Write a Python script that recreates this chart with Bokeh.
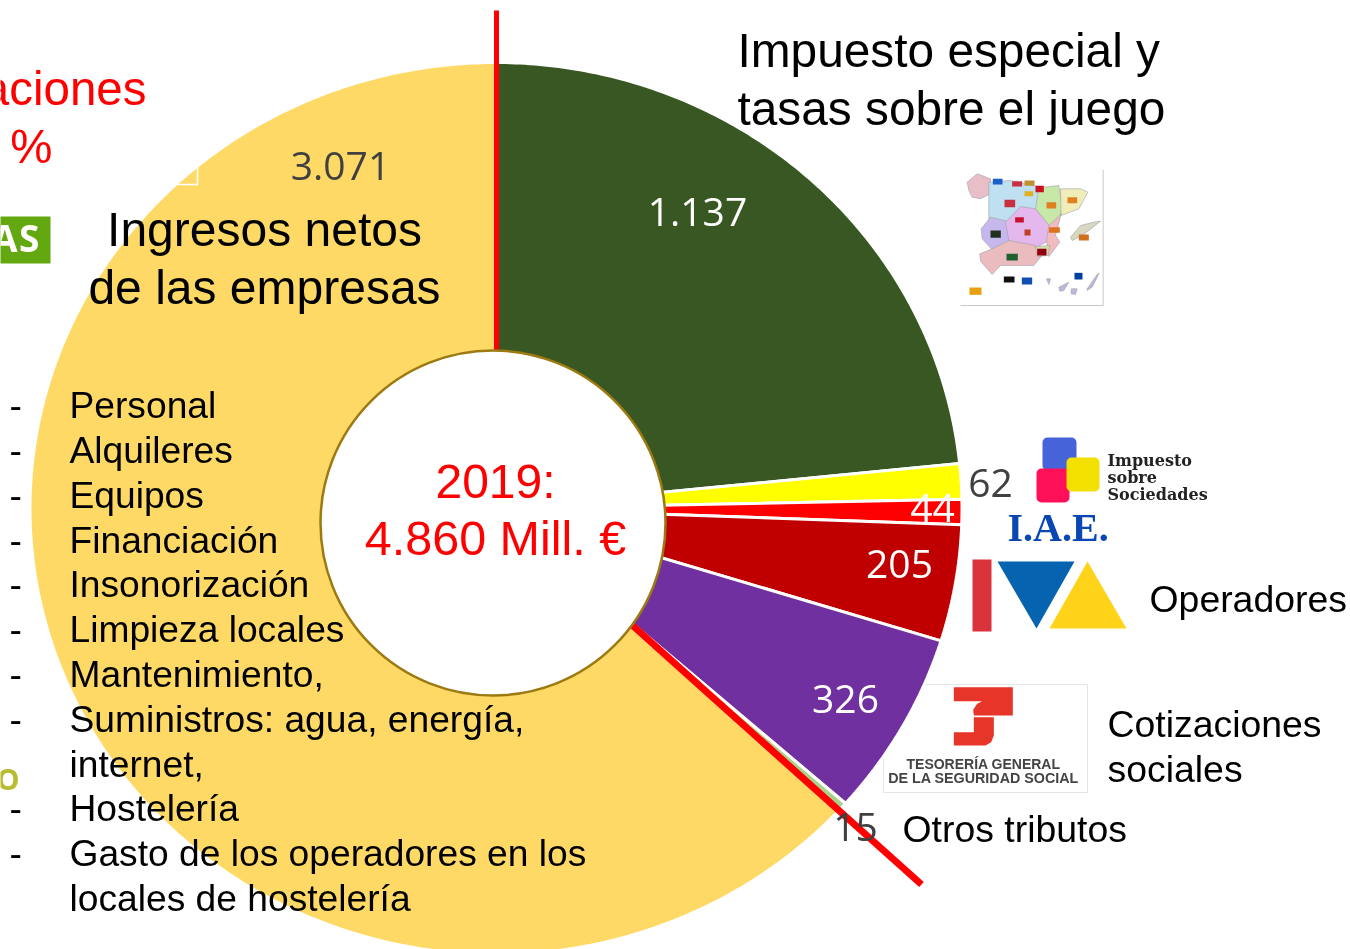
import numpy as np
from bokeh.plotting import figure, ColumnDataSource
from bokeh.models import Range1d
from bokeh.core.properties import value
from bokeh.embed import file_html
from bokeh.resources import INLINE

W, H = 1350, 949

# ---- data
slice_names = ["Impuesto especial y tasas", "Impuesto sobre Sociedades", "I.A.E.", "IVA",
               "Cotizaciones sociales", "Otros tributos", "Ingresos netos de las empresas"]
slice_values = [1137, 62, 44, 205, 326, 15, 3071]
slice_colors = ["#385723", "#FFFF00", "#FF0000", "#C00000", "#7030A0", "#A9D18E", "#FFD966"]
value_labels = ["1.137", "62", "44", "205", "326", "15", "3.071"]
total_label = ["2019:", "4.860 Mill. €"]
expense_items = ["Personal", "Alquileres", "Equipos", "Financiación", "Insonorización",
                 "Limpieza locales", "Mantenimiento,", "Suministros: agua, energía,", "internet,",
                 "Hostelería", "Gasto de los operadores en los", "locales de hostelería"]
expense_dash = [True, True, True, True, True, True, True, True, False, True, True, False]

p = figure(width=W, height=H, x_range=Range1d(0, W), y_range=Range1d(H, 0),
           output_backend="svg", toolbar_location=None, min_border=0,
           outline_line_color=None, background_fill_color="white", border_fill_color="white")
p.axis.visible = False
p.grid.visible = False
p.styles = {"position": "fixed", "left": "0px", "top": "0px"}

# logo frame lies under the pie
p.quad(left=[883], right=[1087], top=[684], bottom=[792], fill_color="white", line_color="#E4E4E4", line_width=1)

# ---- pie (stretched horizontally, as in the reference)
cx, cy, rx, ry = 495.5, 508.0, 466.0, 446.0
total = sum(slice_values)
xs, ys = [], []
acc = 0
for v in slice_values:
    a0, a1 = acc / total * 2 * np.pi, (acc + v) / total * 2 * np.pi
    th = np.linspace(a0, a1, max(3, int(v / 8)))
    xs.append([cx] + list(cx + rx * np.sin(th)))
    ys.append([cy] + list(cy - ry * np.cos(th)))
    acc += v
p.patches(xs, ys, fill_color=slice_colors, line_color="white", line_width=3)

FONT = value("Liberation Sans")
def T(x, y, s, size, color="black", align="left", font=FONT, style="normal"):
    # y is the wanted baseline; Bokeh's svg text sits about 0.36 em lower
    p.text([x], [y - 0.36 * size], text=[s], text_font=font, text_font_size=f"{size}px", text_color=color,
           text_align=align, text_baseline="alphabetic", text_font_style=style)

# small white frame remnant on the gold slice
p.line([175, 197, 197], [184, 184, 165], line_color="white", line_width=1.5)

# ---- red dividers and the hole
p.line([496, 496], [10, 352], line_color="#FF0000", line_width=5)
p.line([632, 921], [625, 884], line_color="#FF0000", line_width=7)
p.ellipse([492.5], [522.5], width=345, height=345, fill_color="white",
          line_color="#9C7A12", line_width=2.5)

# ---- map of Spain (small picture) : zoomed-crop coordinates
def mx(v): return [940 + a / 3 for a in v]
def my(v): return [150 + a / 3 for a in v]
regions = [
    ("#E8BFC8", [80, 110, 150, 150, 120, 95, 85], [95, 70, 85, 130, 145, 140, 120]),
    ("#BFE0F0", [145, 210, 300, 295, 280, 195, 145], [95, 90, 110, 175, 195, 215, 210]),
    ("#C8E8A8", [295, 355, 365, 350, 325, 285], [112, 105, 170, 230, 225, 175]),
    ("#F0EDB8", [360, 420, 442, 415, 362], [115, 115, 125, 175, 195]),
    ("#C6B8EC", [122, 150, 200, 208, 190, 155, 125], [235, 200, 212, 270, 292, 298, 265]),
    ("#E4B8EC", [195, 240, 285, 330, 322, 285, 205], [215, 168, 175, 230, 272, 292, 270]),
    ("#F0BCC0", [325, 362, 345, 358, 325, 318], [225, 190, 255, 275, 318, 270]),
    ("#EABCC0", [118, 155, 205, 285, 302, 280, 180, 155, 120], [310, 295, 270, 285, 318, 345, 345, 372, 332]),
    ("#D8DCA8", [285, 328, 322, 290], [288, 285, 315, 318]),
    ("#D8D8C0", [390, 420, 460, 480, 445, 425, 395], [260, 225, 215, 212, 240, 255, 270]),
    ("#BDB8DC", [440, 470, 476, 455, 440], [415, 372, 368, 410, 420]),
    ("#BDB8DC", [355, 385, 370, 358], [410, 395, 420, 422]),
    ("#BDB8DC", [318, 330, 325], [385, 385, 402]),
    ("#BDB8DC", [392, 410, 405, 392], [415, 415, 432, 430]),
]
for c, a, b in regions:
    p.patch(mx(a), my(b), fill_color=c, line_color="#A0A0A8", line_width=0.6)
flags = [("#1A5FC8", 157, 85, 186, 102), ("#C83040", 215, 92, 245, 108), ("#C09030", 252, 90, 282, 106),
         ("#C81020", 285, 106, 310, 125), ("#E0B020", 252, 122, 278, 137), ("#C83040", 192, 148, 224, 170),
         ("#E08020", 318, 155, 347, 174), ("#E08020", 381, 140, 410, 158), ("#C81030", 224, 200, 250, 216),
         ("#203020", 150, 240, 181, 262), ("#C04020", 252, 237, 270, 255), ("#E07020", 325, 230, 358, 247),
         ("#D07020", 415, 252, 445, 270), ("#206030", 198, 310, 232, 330), ("#900010", 290, 295, 318, 315),
         ("#101010", 190, 378, 222, 396), ("#1050B0", 244, 381, 275, 402), ("#0040A0", 402, 367, 426, 387),
         ("#E8A010", 87, 411, 123, 433)]
for c, l, t, r, b in flags:
    p.quad(left=[940 + l / 3], right=[940 + r / 3], top=[150 + t / 3], bottom=[150 + b / 3],
           fill_color=c, line_color=None)
p.line(mx([60, 488, 488]), my([465, 465, 58]), line_color="#C8C8C8", line_width=1)

# ---- logo: Impuesto sobre Sociedades
for c, l, t, r, b in [("#4763D9", 1042, 437, 1076, 470), ("#FF1058", 1036, 468, 1069, 502),
                      ("#F2E000", 1066, 457, 1099, 491)]:
    p.quad(left=[l], right=[r], top=[t], bottom=[b], fill_color=c, line_color=None, border_radius=5)
SERIF = value("DejaVu Serif")
for i, s in enumerate(["Impuesto", "sobre", "Sociedades"]):
    T(1107, 466 + i * 16.7, s, 16, "#222222", font=SERIF, style="bold")

# ---- logo: I.A.E.
T(1007, 541, "I.A.E.", 40, "#0A47B5", font=value("Liberation Serif"), style="bold")

# ---- logo: IVA
p.quad(left=[972], right=[991], top=[559], bottom=[631], fill_color="#D9333B", line_color=None)
p.patch([997, 1074, 1036], [561, 561, 628], fill_color="#0563AF", line_color=None)
p.patch([1087, 1126, 1049], [561, 628, 628], fill_color="#FFD31A", line_color=None)

# ---- logo: Tesorería
def zx(v): return [780 + a / 3 for a in v]
def zy(v): return [670 + a / 3 for a in v]
p.patch(zx([520, 697, 697, 580, 578, 590, 605, 520]), zy([50, 50, 135, 135, 118, 100, 92, 92]),
        fill_color="#E8352A", line_color=None)
p.patch(zx([580, 640, 640, 632, 615, 520, 520, 580]), zy([140, 140, 195, 215, 225, 225, 185, 185]),
        fill_color="#E8352A", line_color=None)
T(983, 769, "TESORERÍA GENERAL", 14, "#444444", "center", style="bold")
T(983, 783, "DE LA SEGURIDAD SOCIAL", 14.3, "#444444", "center", style="bold")

# ---- cut-off bits on the left
p.quad(left=[-5], right=[50], top=[216], bottom=[263], fill_color="#63A810", line_color=None)
T(17, 250, "A", 37, "white", "right", font=value("Open Sans"), style="bold")
T(39, 250, "S", 37, "white", "right", font=value("Open Sans"), style="bold")
T(19, 788, "O", 29, "#B8BC30", "right", font=value("Open Sans"), style="bold")
T(146, 105, "aciones", 47.5, "#FF0000", "right")
T(52, 163, "%", 47.5, "#FF0000", "right")

# ---- value labels
LAB = value("Open Sans")
label_pos = [(697, 226, "white"), (990, 497, "#404040"), (932, 522, "white"), (899, 578, "white"),
             (845, 713, "white"), (855, 841, "#404040"), (340, 180, "#404040")]
for s, (x, y, c) in zip(value_labels, label_pos):
    T(x, y, s, 39, c, "center", font=LAB)

# ---- centre label
T(495, 498, total_label[0], 48, "#FF0000", "center")
T(495, 555, total_label[1], 48.5, "#FF0000", "center")

# ---- headings
T(737, 67, "Impuesto especial y", 47.8)
T(737, 125, "tasas sobre el juego", 47.8)
T(264, 246, "Ingresos netos", 48, align="center")
T(264, 304, "de las empresas", 48, align="center")
T(1149, 612, "Operadores", 37.4)
T(1107, 737, "Cotizaciones", 37.4)
T(1107, 782, "sociales", 37.4)
T(902, 842, "Otros tributos", 37.4)

# ---- expense list
for i, (s, d) in enumerate(zip(expense_items, expense_dash)):
    y = 418 + i * 44.8
    T(69, y, s, 37.2)
    if d:
        T(9, y, "-", 37.2)

open("out.html", "w").write(file_html(p, INLINE))
